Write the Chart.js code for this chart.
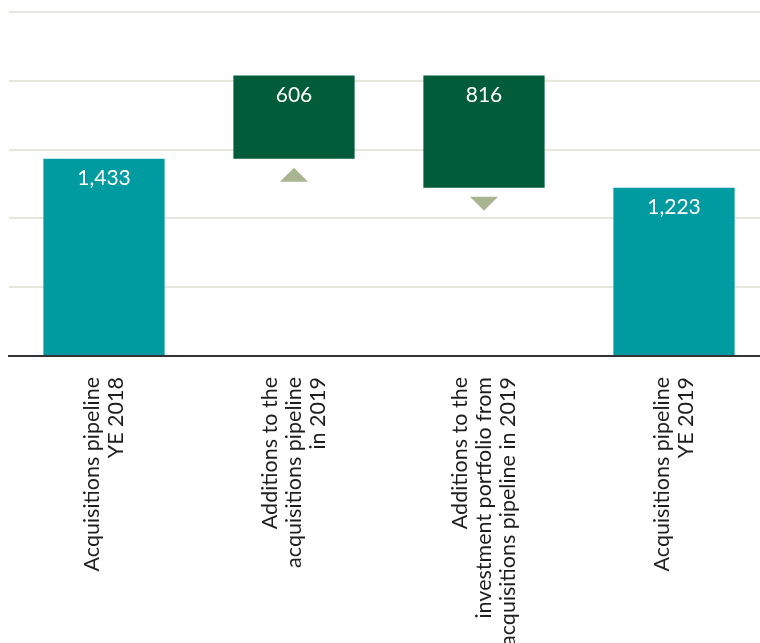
<!DOCTYPE html>
<html>
<head>
<meta charset="utf-8">
<script src="https://cdn.jsdelivr.net/npm/chart.js@4"></script>
<style>
  html, body { margin: 0; padding: 0; background: #ffffff; overflow: hidden; }
  #wrap { position: absolute; left: 0; top: 0; width: 769px; height: 643px; }
</style>
</head>
<body>
<div id="wrap"><canvas id="c" width="769" height="643"></canvas></div>
<script>
// ---- data ----
const categories = [
  ["Acquisitions pipeline", "YE 2018"],
  ["Additions to the", "acquisitions pipeline", "in 2019"],
  ["Additions to the", "investment portfolio from", "acquisitions pipeline in 2019"],
  ["Acquisitions pipeline", "YE 2019"]
];
const values = [1433, 606, 816, 1223];
const stepTypes = ["total", "increase", "decrease", "total"];
const yTicks = [0, 500, 1000, 1500, 2000, 2500];

// ---- derived waterfall ranges ----
const ranges = [];
let running = 0;
values.forEach((v, i) => {
  const t = stepTypes[i];
  if (t === "total") { ranges.push([0, v]); running = v; }
  else if (t === "increase") { ranges.push([running, running + v]); running += v; }
  else { ranges.push([running - v, running]); running -= v; }
});

const COLORS = { total: "#009aa1", increase: "#005c39", decrease: "#005c39" };
const FONT = "Lato, 'Open Sans', sans-serif";
const LINE_H = 24;

// center multi-line rotated tick labels on their tick
const centerLabelsPlugin = {
  id: "centerLabels",
  beforeDraw(chart) {
    const s = chart.scales.x;
    const items = s.getLabelItems(chart.chartArea);
    if (items._centered) return;
    items.forEach((it, i) => {
      const lab = categories[i];
      const n = Array.isArray(lab) ? lab.length : 1;
      it.options.translation[0] -= (n - 1) / 2 * LINE_H;
    });
    items._centered = true;
  }
};

const decorPlugin = {
  id: "decor",
  afterDatasetsDraw(chart) {
    const ctx = chart.ctx;
    const meta = chart.getDatasetMeta(0);
    meta.data.forEach((bar, i) => {
      const p = bar.getProps(["x", "y", "base"], true);
      const top = Math.min(p.y, p.base);
      const bottom = Math.max(p.y, p.base);
      ctx.save();
      ctx.fillStyle = "#ffffff";
      ctx.font = "21px " + FONT;
      ctx.textAlign = "center";
      ctx.textBaseline = "middle";
      ctx.fillText(values[i].toLocaleString("en-US"), p.x, top + 19.5);
      const t = stepTypes[i];
      if (t !== "total") {
        ctx.fillStyle = "#a9b591";
        ctx.beginPath();
        if (t === "increase") {
          ctx.moveTo(p.x, bottom + 9);
          ctx.lineTo(p.x + 14, bottom + 23);
          ctx.lineTo(p.x - 14, bottom + 23);
        } else {
          ctx.moveTo(p.x - 14, bottom + 9);
          ctx.lineTo(p.x + 14, bottom + 9);
          ctx.lineTo(p.x, bottom + 23);
        }
        ctx.closePath();
        ctx.fill();
      }
      ctx.restore();
    });
  }
};

new Chart(document.getElementById("c"), {
  type: "bar",
  data: {
    labels: categories,
    datasets: [{
      data: ranges,
      backgroundColor: stepTypes.map(t => COLORS[t]),
      borderWidth: 0,
      borderSkipped: false,
      barPercentage: 0.638,
      categoryPercentage: 1.0
    }]
  },
  options: {
    responsive: false,
    animation: false,
    events: [],
    layout: { padding: { left: 9, top: 12, right: 0, bottom: 0 } },
    plugins: { legend: { display: false }, tooltip: { enabled: false } },
    scales: {
      x: {
        grid: { display: false, drawTicks: false },
        border: { display: true, color: "#333333", width: 2 },
        ticks: {
          autoSkip: false,
          minRotation: 90,
          maxRotation: 90,
          padding: 21,
          color: "#1e1e1e",
          font: { family: FONT, size: 21.5, lineHeight: LINE_H / 21.5 }
        },
        afterFit: (s) => { s.height = 287; }
      },
      y: {
        min: yTicks[0],
        max: yTicks[yTicks.length - 1],
        afterBuildTicks: (s) => { s.ticks = yTicks.map(v => ({ value: v })); },
        grid: {
          drawTicks: false,
          lineWidth: 2,
          color: (c) => (c.tick && c.tick.value === 0) ? "rgba(0,0,0,0)" : "#e6e6dc"
        },
        border: { display: false },
        ticks: { display: false }
      }
    }
  },
  plugins: [centerLabelsPlugin, decorPlugin]
});
</script>
</body>
</html>
